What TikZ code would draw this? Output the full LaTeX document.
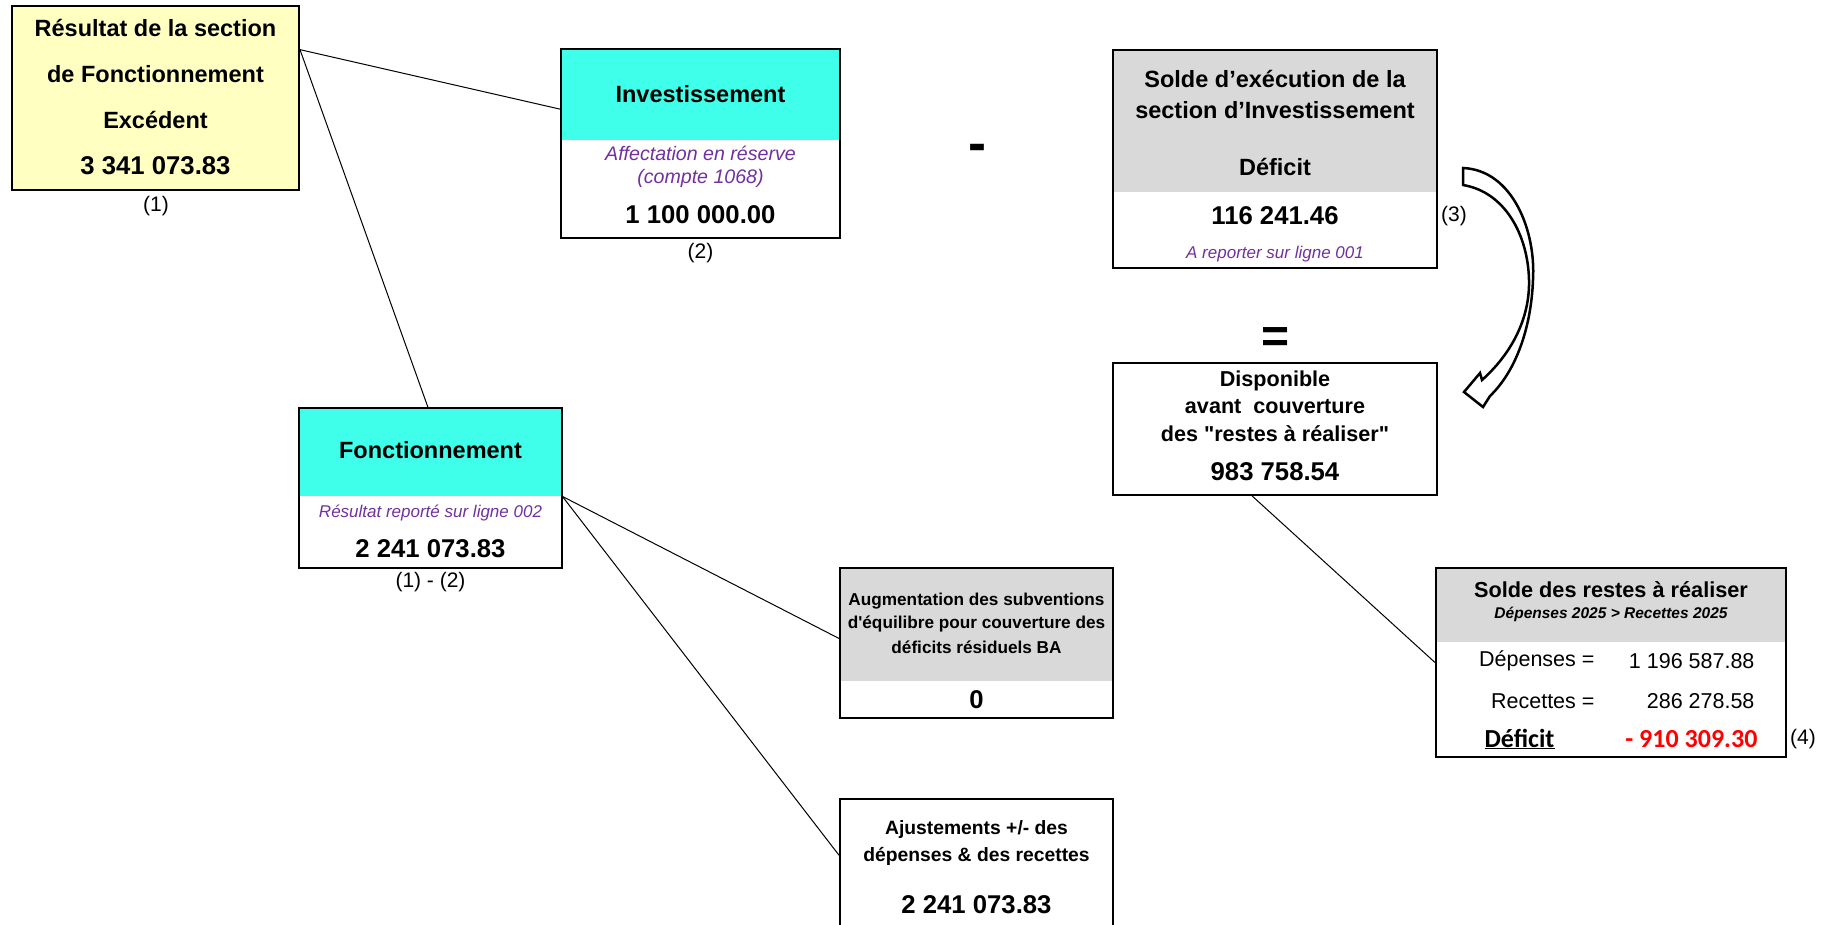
\documentclass[tikz,border=0pt]{standalone}
\usepackage{fontspec}
\setmainfont{Liberation Sans}
\newfontfamily\calibri{Carlito}
\usetikzlibrary{calc}

\definecolor{jaune}{RGB}{255,255,194}
\definecolor{turquoise}{RGB}{64,255,234}
\definecolor{gris}{RGB}{217,217,217}
\definecolor{violet}{RGB}{112,48,160}

\tikzset{
  cadre/.style={draw, line width=2pt, inner sep=0pt},
  entete/.style={inner sep=0pt, anchor=north west},
  titre/.style={font=\bfseries\fontsize{23.5}{28}\selectfont},
  montant/.style={font=\bfseries\fontsize{25.7}{30}\selectfont},
  note/.style={font=\itshape\fontsize{17}{20}\selectfont, text=violet},
  renvoi/.style={font=\fontsize{21}{25}\selectfont},
  lien/.style={line width=1pt},
}

\begin{document}
\begin{tikzpicture}[x=1pt, y=-1pt]
      \useasboundingbox (0,0) rectangle (1823,924);
      \node[cadre, fill=jaune, minimum width=287pt, minimum height=184pt] (resultat) at (155.5,98) {};
      \node[titre] (res1) at (155.5,28) {Résultat de la section};
      \node[titre] (res2) at (155.5,74) {de Fonctionnement};
      \node[titre] (res3) at (155.5,120) {Excédent};
      \node[montant] (res4) at (155.5,166) {3 341 073.83};
      \node[renvoi] (ref1) at (156,206) {(1)};

      \node[entete, fill=turquoise, minimum width=279pt, minimum height=91pt] (invtete) at (561,49) {};
      \node[cadre, minimum width=279pt, minimum height=189pt] (invest) at (700.5,143.5) {};
      \node[titre] (inv1) at (700.5,94) {Investissement};
      \node[note, font=\itshape\fontsize{19.6}{23}\selectfont] (inv2) at (700.5,153) {Affectation en réserve};
      \node[note, font=\itshape\fontsize{19.6}{23}\selectfont] (inv3) at (700.5,178) {(compte 1068)};
      \node[montant] (inv4) at (700.5,215) {1 100 000.00};
      \node[renvoi] (ref2) at (700.5,253) {(2)};

      \node[font=\bfseries\fontsize{54}{60}\selectfont] (moins) at (977,153) {-};

      \node[entete, fill=gris, minimum width=324pt, minimum height=142pt] (soldetete) at (1113,50) {};
      \node[cadre, minimum width=324pt, minimum height=218pt] (solde) at (1275,159) {};
      \node[titre] (sol1) at (1275,79) {Solde d’exécution de la};
      \node[titre] (sol2) at (1275,110) {section d’Investissement};
      \node[titre] (sol3) at (1275,167) {Déficit};
      \node[montant] (sol4) at (1275,216) {116 241.46};
      \node[note] (sol5) at (1275,254) {A reporter sur ligne 001};
      \node[renvoi] (ref3) at (1454,216) {(3)};

      \draw[line width=2.5pt, fill=white, line join=miter]
        (1463,168) .. controls (1512,170) and (1536,230) .. (1533,280)
        .. controls (1531,330) and (1515,372) .. (1490,396)
        -- (1483,407) -- (1464,392) -- (1480,373) -- (1482,380)
        .. controls (1510,355) and (1530,320) .. (1529,280)
        .. controls (1528,235) and (1505,192) .. (1463,185) -- cycle;

      \node[font=\bfseries\fontsize{48}{54}\selectfont] (egal) at (1275,340) {=};

      \node[cadre, minimum width=324pt, minimum height=132pt] (dispo) at (1275,429) {};
      \node[titre, font=\bfseries\fontsize{21.6}{26}\selectfont] (dis1) at (1275,381) {Disponible};
      \node[titre, font=\bfseries\fontsize{21.6}{26}\selectfont] (dis2) at (1275,407) {avant\ \ couverture};
      \node[titre, font=\bfseries\fontsize{21.6}{26}\selectfont] (dis3) at (1275,434) {des \textquotedbl restes à réaliser\textquotedbl};
      \node[montant] (dis4) at (1275,472) {983 758.54};

      \node[entete, fill=turquoise, minimum width=263pt, minimum height=88pt] (fonctete) at (299,408) {};
      \node[cadre, minimum width=263pt, minimum height=160pt] (fonct) at (430.5,488) {};
      \node[titre] (fon1) at (430.5,450) {Fonctionnement};
      \node[note] (fon2) at (430.5,513) {Résultat reporté sur ligne 002};
      \node[montant] (fon3) at (430.5,549) {2 241 073.83};
      \node[renvoi] (ref12) at (430.5,582) {(1) - (2)};

      \node[entete, fill=gris, minimum width=273pt, minimum height=113pt] (augtete) at (840,568) {};
      \node[cadre, minimum width=273pt, minimum height=150pt] (augm) at (976.5,643) {};
      \node[titre, font=\bfseries\fontsize{17.2}{21}\selectfont] (aug1) at (976.5,601) {Augmentation des subventions};
      \node[titre, font=\bfseries\fontsize{17.2}{21}\selectfont] (aug2) at (976.5,624) {d\textquotesingle équilibre pour couverture des};
      \node[titre, font=\bfseries\fontsize{17.2}{21}\selectfont] (aug3) at (976.5,647) {déficits résiduels BA};
      \node[montant] (aug4) at (976.5,700) {0};

      \node[cadre, minimum width=273pt, minimum height=141pt] (ajust) at (976.5,869.5) {};
      \node[titre, font=\bfseries\fontsize{19.3}{23}\selectfont] (aju1) at (976.5,829) {Ajustements +/- des};
      \node[titre, font=\bfseries\fontsize{19.3}{23}\selectfont] (aju2) at (976.5,856) {dépenses \& des recettes};
      \node[montant] (aju3) at (976.5,905) {2 241 073.83};

      \node[entete, fill=gris, minimum width=350pt, minimum height=74pt] (restete) at (1436,568) {};
      \node[cadre, minimum width=350pt, minimum height=189pt] (restes) at (1611,662.5) {};
      \node[titre, font=\bfseries\fontsize{21.7}{26}\selectfont] (rar1) at (1611,590) {Solde des restes à réaliser};
      \node[font=\bfseries\itshape\fontsize{15.5}{19}\selectfont] (rar2) at (1611,614) {Dépenses 2025 > Recettes 2025};
      \node[font=\fontsize{21.5}{26}\selectfont, anchor=east] (rar3) at (1598,661) {Dépenses =};
      \node[font=\fontsize{21.5}{26}\selectfont, anchor=east] (rar4) at (1758,661) {1 196 587.88};
      \node[font=\fontsize{21.5}{26}\selectfont, anchor=east] (rar5) at (1598,701) {Recettes =};
      \node[font=\fontsize{21.5}{26}\selectfont, anchor=east] (rar6) at (1758,701) {286 278.58};
      \node[font=\calibri\bfseries\fontsize{26}{30}\selectfont, anchor=west] (rar7) at (1481,739) {\underline{Déficit}};
      \node[font=\calibri\bfseries\fontsize{26}{30}\selectfont, text=red, anchor=east] (rar8) at (1761,739) {- 910 309.30};
      \node[renvoi] (ref4) at (1803,739) {(4)};

      \draw[lien] ($(resultat.north east)!0.24!(resultat.south east)$) -- ($(invest.north west)!0.32!(invest.south west)$);
      \draw[lien] ($(resultat.north east)!0.24!(resultat.south east)$) -- ($(fonct.north west)!0.49!(fonct.north east)$);
      \draw[lien] (fonctete.south east) -- ($(augm.north west)!0.47!(augm.south west)$);
      \draw[lien] (fonctete.south east) -- ($(ajust.north west)!0.40!(ajust.south west)$);
      \draw[lien] ($(dispo.south west)!0.43!(dispo.south east)$) -- (restes.west);
    \end{tikzpicture}
\end{document}
